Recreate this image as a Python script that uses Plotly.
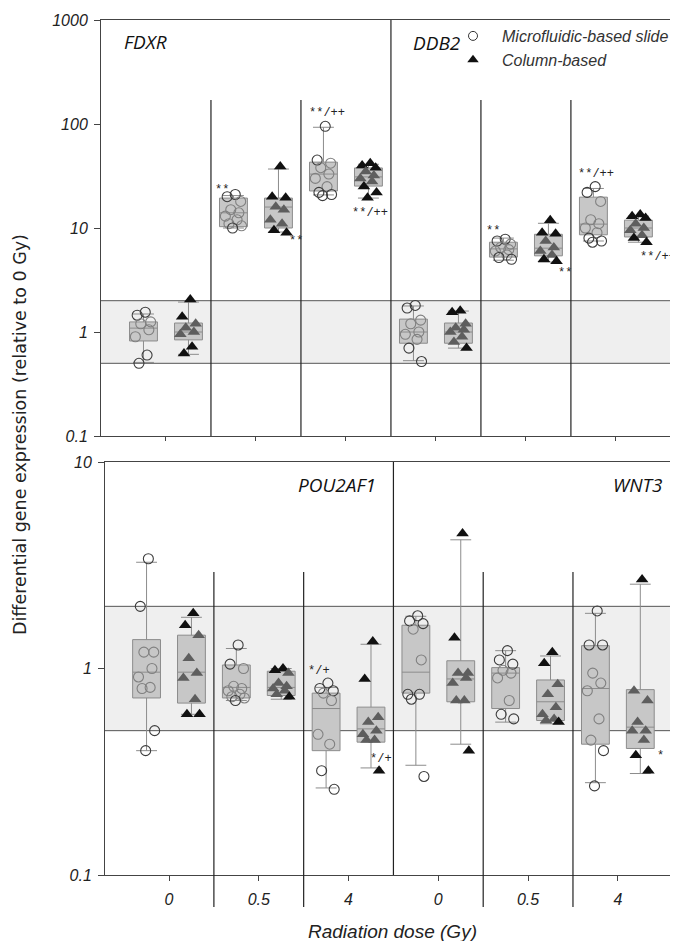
import math
import plotly.graph_objects as go

# ---------------- data ----------------
DOSES = ["0", "0.5", "4"]
GENES_TOP = ["FDXR", "DDB2"]
GENES_BOTTOM = ["POU2AF1", "WNT3"]
METHODS = ["Microfluidic-based slide", "Column-based"]

# individual values per dose (0, 0.5, 4 Gy)
FDXR_MICRO = [[1.55, 1.45, 1.25, 1.2, 1.05, 0.9, 0.6, 0.5],
              [21, 20, 18, 15, 14, 13, 12, 11, 10.5, 10],
              [95, 45, 42, 38, 33, 30, 25, 22, 21, 20.5]]
FDXR_COLUMN = [[2.05, 1.4, 1.2, 1.1, 1.0, 0.95, 0.72, 0.62],
               [39, 20, 19.5, 16, 15, 12, 11, 9.5, 9],
               [42, 40, 38, 35, 32, 30, 28, 25, 22, 19.5]]
DDB2_MICRO = [[1.8, 1.7, 1.3, 1.2, 1.0, 0.95, 0.85, 0.7, 0.52],
              [7.8, 7.5, 7.0, 6.5, 6.2, 6.0, 5.5, 5.2, 5.0],
              [25, 22, 18, 12, 11, 10, 9, 8, 7.5, 7.3]]
DDB2_COLUMN = [[1.6, 1.55, 1.2, 1.1, 1.05, 1.0, 0.9, 0.8, 0.7],
               [11.9, 9, 8.8, 7.5, 6.5, 6.0, 5.5, 5.0, 4.8],
               [13.5, 13, 12.5, 11, 10, 9.5, 8.5, 8, 7.3]]
POU2AF1_MICRO = [[3.4, 2.0, 1.2, 1.2, 1.0, 0.91, 0.81, 0.8, 0.5, 0.4],
                 [1.3, 1.05, 1.0, 0.82, 0.8, 0.78, 0.75, 0.73, 0.72, 0.7],
                 [0.85, 0.8, 0.78, 0.76, 0.7, 0.48, 0.43, 0.32, 0.26]]
POU2AF1_COLUMN = [[1.85, 1.62, 1.45, 1.12, 0.95, 0.9, 0.71, 0.6, 0.6],
                  [1.0, 0.98, 0.95, 0.85, 0.82, 0.8, 0.78, 0.75, 0.73],
                  [1.35, 0.89, 0.58, 0.55, 0.5, 0.48, 0.45, 0.45, 0.32]]
WNT3_MICRO = [[1.8, 1.7, 1.65, 1.55, 1.1, 0.75, 0.75, 0.71, 0.3],
              [1.22, 1.1, 1.05, 0.98, 0.95, 0.9, 0.7, 0.6, 0.57],
              [1.9, 1.3, 1.3, 0.95, 0.85, 0.78, 0.57, 0.45, 0.40, 0.27]]
WNT3_COLUMN = [[4.5, 1.41, 0.95, 0.95, 0.9, 0.85, 0.7, 0.7, 0.4],
               [1.2, 1.06, 0.84, 0.75, 0.65, 0.6, 0.57, 0.56, 0.55],
               [2.7, 0.78, 0.70, 0.55, 0.5, 0.5, 0.45, 0.38, 0.32]]

# box statistics per dose: (lower whisker, q1, median, q3, upper whisker)
FDXR_MICRO_BOX = [(0.51, 0.82, 1.09, 1.25, 1.49), (10.0, 10.3, 14, 19.4, 20.5), (20.8, 22.7, 33, 43, 93)]
FDXR_COLUMN_BOX = [(0.61, 0.84, 1.0, 1.22, 1.94), (9.15, 10, 15.9, 19.4, 36.9), (19.4, 25.3, 31, 37.8, 41)]
DDB2_MICRO_BOX = [(0.53, 0.78, 1.0, 1.33, 1.78), (4.9, 5.25, 6.3, 7.3, 8.0), (7.5, 8.6, 10.9, 19.8, 24)]
DDB2_COLUMN_BOX = [(0.7, 0.78, 1.0, 1.22, 1.59), (4.7, 5.4, 6.4, 8.7, 11.1), (7.3, 8.2, 10, 11.9, 13)]
POU2AF1_MICRO_BOX = [(0.40, 0.72, 0.96, 1.38, 3.27), (0.70, 0.72, 0.81, 1.04, 1.25), (0.264, 0.40, 0.64, 0.76, 0.81)]
POU2AF1_COLUMN_BOX = [(0.6, 0.68, 0.96, 1.45, 1.77), (0.71, 0.74, 0.81, 0.97, 1.0), (0.33, 0.44, 0.51, 0.65, 1.31)]
WNT3_MICRO_BOX = [(0.34, 0.76, 0.96, 1.62, 1.79), (0.55, 0.64, 0.95, 1.01, 1.22), (0.28, 0.43, 0.80, 1.29, 1.85)]
WNT3_COLUMN_BOX = [(0.43, 0.69, 0.89, 1.09, 4.2), (0.54, 0.56, 0.69, 0.88, 1.15), (0.31, 0.41, 0.52, 0.79, 2.56)]

# significance marks
SIG_TOP = ["**", "**", "**/++", "**/++", "**", "**", "**/++", "**/++"]
SIG_BOTTOM = ["*/+", "*/+", "*"]

# ---------------- styling / layout helpers ----------------
PAGE = 8                      # browser body margin around the figure
FW, FH = 678 - PAGE, 941 - PAGE
FONT = "Liberation Sans"
JITTER = [0.02, -0.07, 0.08, -0.03, 0.06, -0.09, 0.04, -0.05, 0.09, -0.01]
OFFSET = 0.25
BOXW = 0.31
BOX_FILL = "#c7c7c7"
BOX_LINE = "#8c8c8c"


def fx(px):
    return (px - PAGE) / FW


def fy(py):
    return 1 - (py - PAGE) / FH


fig = go.Figure()


def add_panel(gene_data, xa, ya):
    for m, method in enumerate(METHODS):
        xs, lo, q1, med, q3, hi = [], [], [], [], [], []
        for g, (pts_pair, box_pair) in enumerate(gene_data):
            for d in range(3):
                st = box_pair[m][d]
                xs.append(3 * g + d + (-OFFSET if m == 0 else OFFSET))
                lo.append(st[0]); q1.append(st[1]); med.append(st[2]); q3.append(st[3]); hi.append(st[4])
        fig.add_trace(go.Box(x=xs, lowerfence=lo, q1=q1, median=med, q3=q3, upperfence=hi,
                             width=BOXW, whiskerwidth=0.75, fillcolor=BOX_FILL,
                             line=dict(color=BOX_LINE, width=1), boxpoints=False,
                             xaxis=xa, yaxis=ya, showlegend=False, hoverinfo="skip"))
    for m, method in enumerate(METHODS):
        px, py, pc = [], [], []
        for g, (pts_pair, box_pair) in enumerate(gene_data):
            for d in range(3):
                st = box_pair[m][d]
                base = 3 * g + d + (-OFFSET if m == 0 else OFFSET)
                for k, v in enumerate(pts_pair[m][d]):
                    px.append(base + JITTER[k % len(JITTER)])
                    py.append(v)
                    inside = st[1] <= v <= st[3]
                    if m == 0:
                        pc.append("#808080" if inside else "#3c3c3c")
                    else:
                        pc.append("#5e5e5e" if inside else "#111111")
        if m == 0:
            marker = dict(symbol="circle-open", size=10, color=pc, line=dict(width=1.1))
        else:
            marker = dict(symbol="triangle-up", size=11, color=pc, line=dict(width=0))
        fig.add_trace(go.Scatter(x=px, y=py, mode="markers", marker=marker,
                                 xaxis=xa, yaxis=ya, showlegend=False, hoverinfo="skip"))


add_panel([((FDXR_MICRO, FDXR_COLUMN), (FDXR_MICRO_BOX, FDXR_COLUMN_BOX)),
           ((DDB2_MICRO, DDB2_COLUMN), (DDB2_MICRO_BOX, DDB2_COLUMN_BOX))], "x", "y")
add_panel([((POU2AF1_MICRO, POU2AF1_COLUMN), (POU2AF1_MICRO_BOX, POU2AF1_COLUMN_BOX)),
           ((WNT3_MICRO, WNT3_COLUMN), (WNT3_MICRO_BOX, WNT3_COLUMN_BOX))], "x2", "y2")

# legend entries
fig.add_trace(go.Scatter(x=[None], y=[None], mode="markers", name=METHODS[0],
                         marker=dict(symbol="circle-open", size=9, color="#333", line=dict(width=1))))
fig.add_trace(go.Scatter(x=[None], y=[None], mode="markers", name=METHODS[1],
                         marker=dict(symbol="triangle-up", size=10, color="#111")))

# ---------------- shapes ----------------
shapes = []
line_dark = dict(color="#222", width=1.2)
for xref, yref, top_val, sep_top in [("x", "y", 1000, 170), ("x2", "y2", 10, 2.93)]:
    shapes.append(dict(type="rect", xref=f"{xref} domain", yref=yref, x0=0, x1=1, y0=0.5, y1=2,
                       fillcolor="#efefef", line=dict(width=0), layer="below"))
    for yv in (0.5, 2):
        shapes.append(dict(type="line", xref=f"{xref} domain", yref=yref, x0=0, x1=1, y0=yv, y1=yv,
                           line=dict(color="#555", width=1), layer="below"))
    for xb in (0.5, 1.5, 3.5, 4.5):
        shapes.append(dict(type="line", xref=xref, yref=yref, x0=xb, x1=xb, y0=0.1, y1=sep_top,
                           line=line_dark, layer="below"))
    shapes.append(dict(type="line", xref=xref, yref=yref, x0=2.5, x1=2.5, y0=0.1, y1=top_val,
                       line=line_dark, layer="below"))
# group separators below the bottom axis
for xb in (0.5, 1.5, 3.5, 4.5):
    shapes.append(dict(type="line", xref="x2", yref="paper", x0=xb, x1=xb, y0=fy(907), y1=fy(875),
                       line=line_dark))

# ---------------- annotations ----------------
ann = []
ital = dict(family="Open Sans", size=19, color="#111", style="italic")
ann.append(dict(text=GENES_TOP[0], x=(122 - 101) / 577, y=1 - 22 / 416, xref="x domain", yref="y domain",
                xanchor="left", yanchor="middle", showarrow=False, font=ital))
ann.append(dict(text=GENES_TOP[1], x=(411 - 101) / 577, y=1 - 23 / 416, xref="x domain", yref="y domain",
                xanchor="left", yanchor="middle", showarrow=False, font=ital))
ann.append(dict(text=GENES_BOTTOM[0], x=(378 - 105) / 573, y=1 - 23 / 413, xref="x2 domain", yref="y2 domain",
                xanchor="right", yanchor="middle", showarrow=False, font=ital))
ann.append(dict(text=GENES_BOTTOM[1], x=(665 - 105) / 573, y=1 - 23 / 413, xref="x2 domain", yref="y2 domain",
                xanchor="right", yanchor="middle", showarrow=False, font=ital))

sig_font = dict(family="Liberation Mono", size=12, color="#222")
SIG_TOP_POS = [(0.62, 23.2, "center"), (1.44, 7.5, "center"), (1.79, 128, "center"), (2.27, 13.9, "center"),
               (3.63, 9.35, "center"), (4.43, 3.69, "center"), (4.78, 33, "center"), (5.25, 5.26, "left")]
for txt, (xv, yv, anc) in zip(SIG_TOP, SIG_TOP_POS):
    ann.append(dict(text=txt, x=xv, y=math.log10(yv), xref="x", yref="y", xanchor=anc,
                    yanchor="middle", showarrow=False, font=sig_font))
SIG_BOTTOM_POS = [(1.67, 0.978, "center"), (2.36, 0.366, "center"), (5.48, 0.378, "center")]
for txt, (xv, yv, anc) in zip(SIG_BOTTOM, SIG_BOTTOM_POS):
    ann.append(dict(text=txt, x=xv, y=math.log10(yv), xref="x2", yref="y2", xanchor=anc,
                    yanchor="middle", showarrow=False, font=sig_font))

ann.append(dict(text="Differential gene expression (relative to 0 Gy)", x=fx(20), y=fy(435),
                xref="paper", yref="paper", textangle=-90, showarrow=False,
                xanchor="center", yanchor="middle", font=dict(family="DejaVu Sans", size=17.5, color="#222")))
ann.append(dict(text="Radiation dose (Gy)", x=fx(392), y=fy(931), xref="paper", yref="paper",
                showarrow=False, xanchor="center", yanchor="middle",
                font=dict(family=FONT, size=19, color="#222", style="italic")))

tickfont = dict(family=FONT, size=16, color="#222", style="italic")
axis_common = dict(showgrid=False, zeroline=False, showline=True, linecolor="#444", linewidth=1,
                   ticks="outside", tickcolor="#444", automargin=False)

fig.update_layout(
    width=FW, height=FH, margin=dict(l=0, r=0, t=0, b=0, autoexpand=False),
    paper_bgcolor="white", plot_bgcolor="white",
    font=dict(family=FONT, color="#222"),
    shapes=shapes, annotations=ann,
    showlegend=True,
    legend=dict(x=fx(444), y=fy(19), xanchor="left", yanchor="top", itemwidth=48,
                bgcolor="rgba(0,0,0,0)", borderwidth=0, tracegroupgap=0,
                font=dict(family=FONT, size=16, color="#333", style="italic")),
    xaxis=dict(domain=[fx(101), 1], range=[-0.722, 5.69], tickvals=list(range(6)),
               showticklabels=False, ticklen=4, mirror=True, anchor="y", **axis_common),
    yaxis=dict(domain=[fy(436), fy(20)], type="log", range=[-1, 3],
               tickvals=[0.1, 1, 10, 100, 1000], ticktext=["0.1", "1", "10", "100", "1000"],
               ticklen=6, ticklabelstandoff=3, tickfont=tickfont, anchor="x", **axis_common),
    xaxis2=dict(domain=[fx(105), 1], range=[-0.713, 5.67], tickvals=list(range(6)),
                ticktext=DOSES + DOSES, tickfont=tickfont, ticklen=5, ticklabelstandoff=5,
                mirror=True, anchor="y2", **axis_common),
    yaxis2=dict(domain=[fy(875), fy(462)], type="log", range=[-1, 1],
                tickvals=[0.1, 1, 10], ticktext=["0.1", "1", "10"],
                ticklen=6, ticklabelstandoff=3, tickfont=tickfont, anchor="x2", **axis_common),
)

fig.write_html("out.html")
